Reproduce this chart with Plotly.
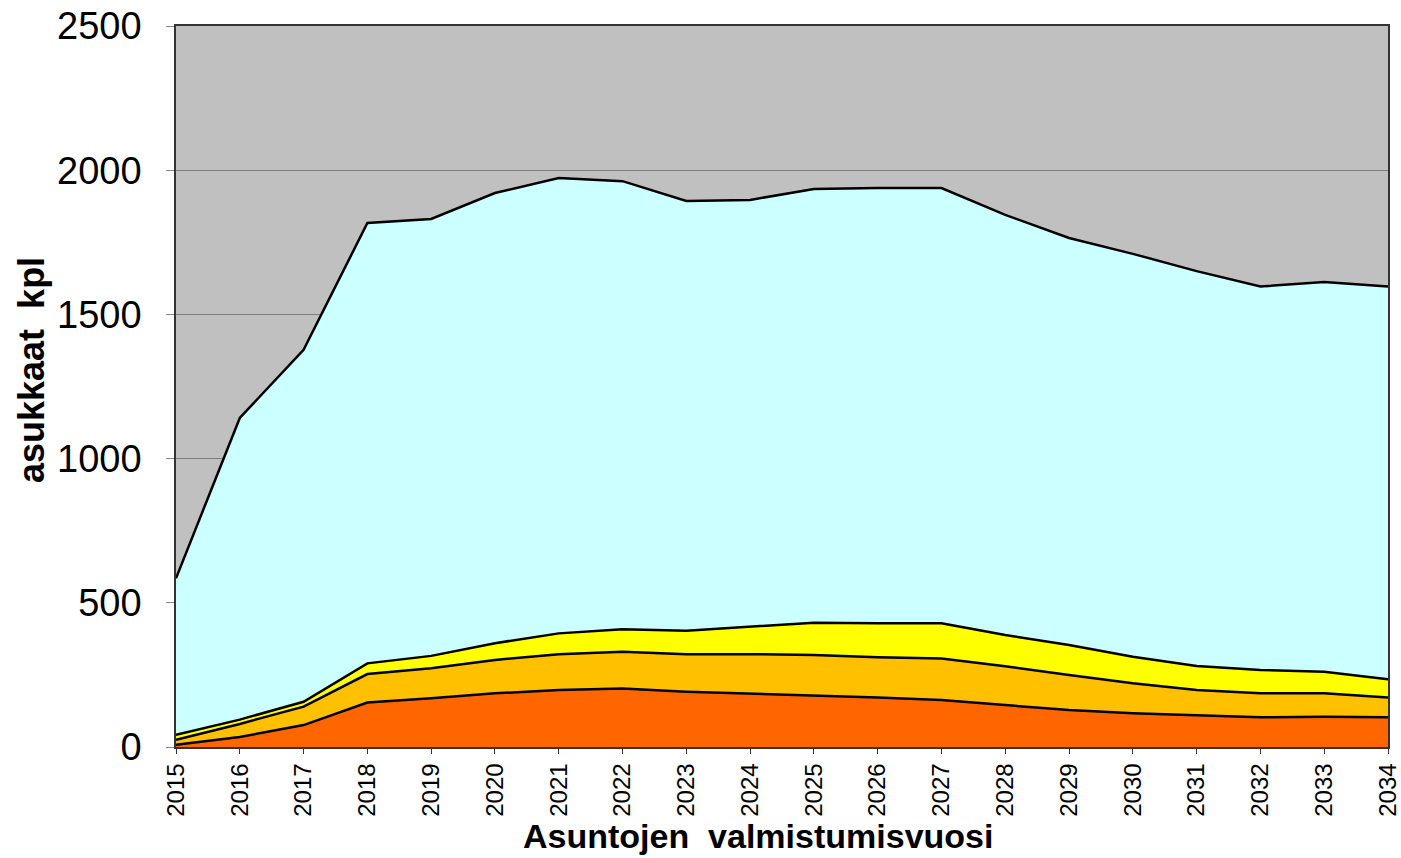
import plotly.graph_objects as go

years = list(range(2015, 2035))
tick_labels = [str(y) for y in years]

# individual layer values (stacked from bottom)
layer_red = [8, 35, 76, 154, 169, 186, 198, 203, 192, 186, 180, 172, 163, 146, 128, 117, 111, 103, 105, 103]
layer_orange = [17, 45, 64, 99, 104, 116, 124, 127, 130, 136, 139, 139, 144, 134, 122, 104, 87, 83, 81, 69]
layer_yellow = [17, 15, 17, 37, 43, 58, 72, 78, 81, 95, 112, 118, 122, 108, 104, 92, 83, 81, 75, 63]
total = [585, 1141, 1377, 1817, 1831, 1921, 1973, 1962, 1893, 1897, 1935, 1938, 1938, 1845, 1765, 1710, 1650, 1597, 1612, 1597]
layer_cyan = [t - r - o - y for t, r, o, y in zip(total, layer_red, layer_orange, layer_yellow)]

x_title = "<b>Asuntojen  valmistumisvuosi</b>"
y_title = "<b>asukkaat  kpl</b>"

series = [
    ("layer 1", layer_red, "#FF6600"),
    ("layer 2", layer_orange, "#FFC000"),
    ("layer 3", layer_yellow, "#FFFF00"),
    ("layer 4", layer_cyan, "#CCFFFF"),
]

fig = go.Figure()
for name, vals, col in series:
    fig.add_trace(go.Scatter(
        x=years, y=vals, name=name, mode="lines",
        stackgroup="one", fillcolor=col,
        line=dict(color="black", width=2.5),
    ))

fig.update_layout(
    width=1401, height=858,
    margin=dict(l=176, r=13, t=26, b=111),
    paper_bgcolor="white",
    plot_bgcolor="#C0C0C0",
    showlegend=False,
    font=dict(family="Liberation Sans, Arial, sans-serif", color="black"),
)
fig.update_xaxes(
    range=[2015, 2034],
    tickmode="array", tickvals=years, ticktext=tick_labels,
    tickangle=-90, tickfont=dict(size=24),
    showgrid=False, zeroline=False,
    showline=True, linecolor="#333333", linewidth=1.5, mirror=True,
    ticks="outside", ticklen=5, tickcolor="#333333",
    automargin=False, ticklabeloverflow="allow",
)
fig.update_yaxes(
    range=[0, 2500],
    tickvals=[0, 500, 1000, 1500, 2000, 2500],
    tickfont=dict(size=38),
    showgrid=True, gridcolor="#7F7F7F", gridwidth=1,
    zeroline=False,
    showline=True, linecolor="#333333", linewidth=1.5, mirror=True,
    ticks="outside", ticklen=8, tickcolor="#888888",
    ticklabelstandoff=17,
    automargin=False, ticklabeloverflow="allow",
)
fig.add_annotation(
    text=x_title, xref="paper", yref="paper", x=0.480, y=-0.1234,
    xanchor="center", yanchor="middle", showarrow=False,
    font=dict(size=34),
)
fig.add_annotation(
    text=y_title, xref="paper", yref="paper", x=-0.1188, y=0.5229,
    xanchor="center", yanchor="middle", showarrow=False, textangle=-90,
    font=dict(size=36),
)

# remove the page's default body margin so the figure fills the window exactly
fig.write_html(
    "out.html",
    config={"displayModeBar": False},
    post_script="document.body.style.margin='0px';",
)
